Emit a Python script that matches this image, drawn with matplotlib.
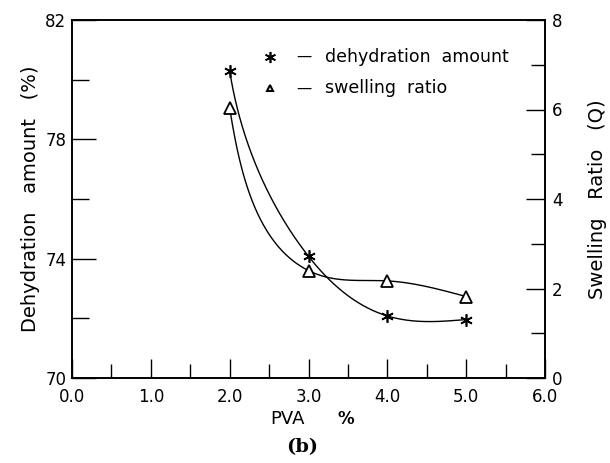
import numpy as np
import matplotlib
matplotlib.use("Agg")
import matplotlib.pyplot as plt

pva = [2.0, 3.0, 4.0, 5.0]
dehydration = [80.3, 74.08, 72.08, 71.96]
swelling = [6.03, 2.40, 2.17, 1.82]

x_ticks = [0.0, 1.0, 2.0, 3.0, 4.0, 5.0, 6.0]
left_ticks = [70, 74, 78, 82]
right_ticks = [0, 2, 4, 6, 8]

AX_W, AX_H = 473.0, 358.0   # axes size in pixels
X_RANGE = 6.0


def pchip_slopes(x, y):
    x = np.asarray(x, float); y = np.asarray(y, float)
    h = np.diff(x); d = np.diff(y) / h
    n = len(x)
    m = np.zeros(n)
    for i in range(1, n - 1):
        if d[i - 1] * d[i] > 0:
            w1 = 2 * h[i] + h[i - 1]; w2 = h[i] + 2 * h[i - 1]
            m[i] = (w1 + w2) / (w1 / d[i - 1] + w2 / d[i])

    def endslope(h0, h1, d0, d1):
        s = ((2 * h0 + h1) * d0 - h0 * d1) / (h0 + h1)
        if np.sign(s) != np.sign(d0):
            s = 0.0
        elif np.sign(d0) != np.sign(d1) and abs(s) > abs(3 * d0):
            s = 3 * d0
        return s

    m[0] = endslope(h[0], h[1], d[0], d[1])
    m[-1] = endslope(h[-1], h[-2], d[-1], d[-2])
    return m


def hermite(t, p0, p1, m0, m1, dt):
    h00 = 2 * t**3 - 3 * t**2 + 1; h10 = t**3 - 2 * t**2 + t
    h01 = -2 * t**3 + 3 * t**2; h11 = t**3 - t**2
    return h00 * p0 + h10 * dt * m0 + h01 * p1 + h11 * dt * m1


def clamped_natural_slopes(x, y, m_start):
    x = np.asarray(x, float); y = np.asarray(y, float)
    n = len(x); h = np.diff(x)
    A = np.zeros((n, n)); b = np.zeros(n)
    A[0, 0] = 1; b[0] = m_start
    for i in range(1, n - 1):
        A[i, i - 1] = 1 / h[i - 1]; A[i, i] = 2 / h[i - 1] + 2 / h[i]; A[i, i + 1] = 1 / h[i]
        b[i] = 3 * ((y[i] - y[i - 1]) / h[i - 1] ** 2 + (y[i + 1] - y[i]) / h[i] ** 2)
    A[-1, -2] = 1; A[-1, -1] = 2; b[-1] = 3 * (y[-1] - y[-2]) / h[-1]
    return np.linalg.solve(A, b)


def smooth_curve(xv, yv, ylo, yhi):
    xv = np.asarray(xv, float); yv = np.asarray(yv, float)
    sx = AX_W / X_RANGE; sy = AX_H / (yhi - ylo)
    m_xy = pchip_slopes(yv[::-1], xv[::-1])[::-1]      # dx/dy at nodes
    m_yx = pchip_slopes(xv, yv)                         # dy/dx at nodes

    def direction(i):
        a = np.array([-m_xy[i] * sx / sy, -1.0]); a /= np.hypot(*a)
        b = np.array([1.0, m_yx[i] * sy / sx]); b /= np.hypot(*b)
        c = a + b
        return c / np.hypot(*c)

    P0 = np.array([xv[0] * sx, yv[0] * sy]); P1 = np.array([xv[1] * sx, yv[1] * sy])
    L = np.hypot(*(P1 - P0))
    T0 = direction(0) * L; T1 = direction(1) * L
    t = np.linspace(0, 1, 300)[:, None]
    seg = hermite(t, P0, P1, T0, T1, 1.0)
    xa = seg[:, 0] / sx; ya = seg[:, 1] / sy
    k1 = (T1[1] / T1[0]) * sx / sy
    ms = clamped_natural_slopes(xv[1:], yv[1:], k1)
    xb, yb = [], []
    for i in range(1, len(xv) - 1):
        dx = xv[i + 1] - xv[i]
        tt = np.linspace(0, 1, 200)
        xb.append(xv[i] + tt * dx)
        yb.append(hermite(tt, yv[i], yv[i + 1], ms[i - 1], ms[i], dx))
    return np.concatenate([xa] + xb), np.concatenate([ya] + yb)


fig = plt.figure(figsize=(6.10, 4.63), dpi=100)
ax = fig.add_axes([72 / 610, 1 - 378 / 463, (545 - 72) / 610, (378 - 20) / 463])
ax2 = ax.twinx()

cx, cy = smooth_curve(pva, dehydration, 70, 82)
ax.plot(cx, cy, color="black", lw=1.0)
ax.plot(pva, dehydration, linestyle="none", marker=(6, 2, 0), ms=9, mew=1.2, color="black")
sxv, syv = smooth_curve(pva, swelling, 0, 8)
ax2.plot(sxv, syv, color="black", lw=1.0)
ax2.plot(pva, swelling, linestyle="none", marker="^", ms=8, mfc="white", mec="black", mew=1.3)

ax.set_xlim(0, 6)
ax.set_ylim(70, 82)
ax2.set_ylim(0, 8)

ax.set_xticks(x_ticks)
ax.set_xticklabels([f"{v:.1f}" for v in x_ticks])
ax.set_xticks(np.arange(0.5, 6, 1.0), minor=True)
ax.set_yticks(left_ticks)
ax.set_yticks([72, 76, 80], minor=True)
ax2.set_yticks(right_ticks)
ax2.set_yticks([1, 3, 5, 7], minor=True)

fs = 12
ax.tick_params(axis="x", which="major", direction="in", length=14, width=1, labelsize=fs, pad=7)
ax.tick_params(axis="x", which="minor", direction="in", length=10, width=1)
ax.tick_params(axis="y", which="major", direction="in", length=17, width=1, labelsize=fs, pad=4)
ax.tick_params(axis="y", which="minor", direction="in", length=12, width=1)
ax2.tick_params(axis="y", which="major", direction="in", length=14, width=1, labelsize=fs, pad=5)
ax2.tick_params(axis="y", which="minor", direction="in", length=10, width=1)

for a in (ax, ax2):
    for s in a.spines.values():
        s.set_linewidth(1.2)

ax.set_ylabel("Dehydration   amount   (%)", fontsize=14, labelpad=4)
ax2.set_ylabel("Swelling   Ratio   (Q)", fontsize=14, labelpad=18)

fig.text(270 / 610, 1 - 419 / 463, "PVA", fontsize=13, ha="left", va="center")
fig.text(346 / 610, 1 - 419 / 463, "%", fontsize=12, ha="center", va="center", weight="bold")
fig.text(302 / 610, 1 - 447 / 463, "(b)", fontsize=14, ha="center", va="center",
         family="DejaVu Serif", weight="bold")

# legend
leg_x = 2.51
ax.plot([leg_x], [80.77], marker=(6, 2, 0), ms=8, mew=1.2, color="black")
ax.text(2.84, 80.77, "—", fontsize=11, va="center", ha="left")
ax.text(3.21, 80.77, "dehydration  amount", fontsize=12.5, va="center", ha="left")
ax.plot([leg_x], [79.71], marker="^", ms=5, mfc="white", mec="black", mew=1.5)
ax.text(2.84, 79.71, "—", fontsize=11, va="center", ha="left")
ax.text(3.21, 79.71, "swelling  ratio", fontsize=12.5, va="center", ha="left")

fig.savefig("out.png", dpi=100)
